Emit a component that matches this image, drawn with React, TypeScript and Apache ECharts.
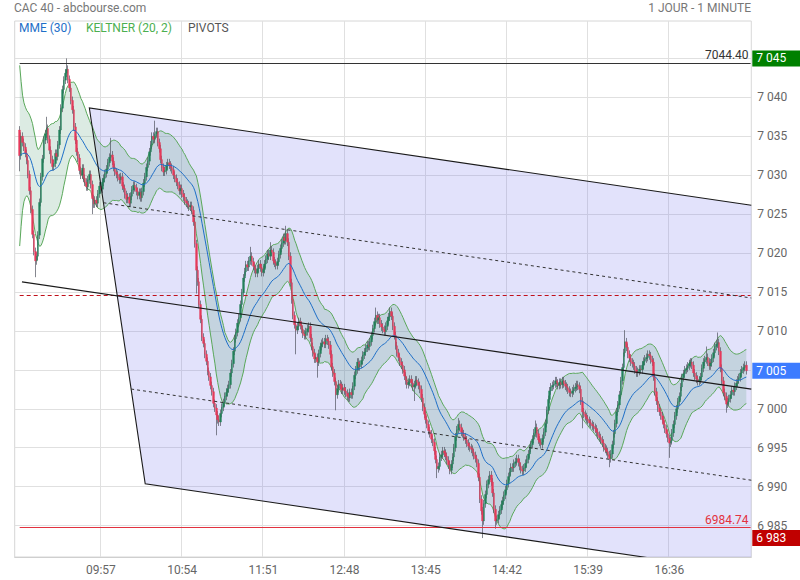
import React, { useEffect, useRef } from "react";
import * as echarts from "echarts";

// ---------- axis / time ----------
const FIRST_SLOT_MINUTE = 8 * 60 + 57; // first category slot 08:57
const SLOT_COUNT = 517; // 08:57 .. 17:33
const LEAD = 3; // first candle at 09:00
const LABEL_FIRST = 60; // 09:57
const LABEL_STEP = 57;

// ---------- price data (1 minute closes, 09:00 .. 17:30) ----------
const FIRST_OPEN = 7035.8;
const closes = [
  7032.5, 7035.0, 7034.2, 7033.6, 7032.8, 7031.9, 7030.1, 7028.0, 7025.6, 7022.4,
  7020.2, 7019.0, 7019.6, 7022.3, 7026.5, 7029.8, 7032.1, 7034.5, 7035.3, 7036.0,
  7034.6, 7033.2, 7032.0, 7031.1, 7031.5, 7032.8, 7032.4, 7033.9, 7035.8, 7038.6,
  7041.0, 7042.2, 7043.1, 7043.6, 7042.3, 7041.2, 7039.6, 7038.4, 7036.2, 7034.5,
  7033.0, 7032.2, 7030.6, 7030.0, 7030.9, 7029.6, 7029.1, 7028.5, 7029.4, 7030.1,
  7028.8, 7027.0, 7026.3, 7026.8, 7026.4, 7027.6, 7028.6, 7028.2, 7029.1, 7029.6,
  7030.2, 7030.8, 7031.6, 7032.3, 7032.6, 7031.8, 7031.0, 7030.4, 7030.1, 7029.7,
  7029.4, 7029.8, 7028.6, 7028.3, 7027.5, 7026.9, 7027.2, 7026.4, 7027.3, 7028.1,
  7028.7, 7028.4, 7027.9, 7027.4, 7027.8, 7027.1, 7027.9, 7029.0, 7029.8, 7031.0,
  7031.8, 7033.0, 7033.9, 7035.0, 7034.6, 7035.3, 7035.6, 7034.2, 7033.4, 7032.0,
  7031.0, 7030.4, 7030.6, 7031.2, 7031.6, 7031.3, 7031.0, 7030.7, 7030.0, 7029.6,
  7029.1, 7028.7, 7028.0, 7028.3, 7027.6, 7027.2, 7026.7, 7026.4, 7026.2, 7025.9,
  7026.1, 7025.5, 7024.0, 7021.2, 7017.8, 7016.3, 7013.4, 7011.5, 7009.2, 7008.4,
  7007.0, 7006.1, 7004.8, 7004.1, 7003.0, 7002.2, 7000.7, 7000.1, 6999.2, 6998.6,
  6998.3, 6999.4, 7000.2, 7000.8, 7001.6, 7002.1, 7002.6, 7003.1, 7004.6, 7005.8,
  7007.4, 7009.0, 7009.8, 7011.0, 7011.7, 7013.4, 7014.9, 7016.8, 7017.6, 7018.5,
  7018.2, 7019.0, 7019.6, 7018.9, 7018.3, 7017.9, 7017.4, 7018.0, 7018.6, 7018.1,
  7017.5, 7017.9, 7018.6, 7019.2, 7019.9, 7019.6, 7020.4, 7020.1, 7019.0, 7018.7,
  7018.4, 7018.9, 7019.8, 7020.6, 7021.3, 7022.0, 7021.6, 7022.5, 7021.4, 7019.6,
  7016.2, 7014.0, 7012.0, 7010.8, 7010.1, 7010.6, 7011.2, 7010.7, 7010.2, 7009.6,
  7009.4, 7009.9, 7010.3, 7010.6, 7009.1, 7008.0, 7007.2, 7006.4, 7006.6, 7006.0,
  7007.1, 7008.0, 7008.4, 7008.6, 7008.3, 7009.0, 7008.7, 7008.2, 7007.0, 7005.4,
  7004.6, 7003.5, 7001.8, 7002.6, 7003.2, 7003.0, 7002.4, 7002.7, 7002.3, 7002.0,
  7001.6, 7001.4, 7002.1, 7001.8, 7002.9, 7004.3, 7005.0, 7006.0, 7005.4, 7005.7,
  7006.2, 7006.9, 7007.3, 7007.8, 7008.2, 7008.0, 7008.6, 7009.4, 7010.3, 7011.2,
  7012.0, 7011.4, 7011.7, 7010.9, 7010.5, 7010.2, 7009.9, 7010.6, 7011.3, 7011.8,
  7012.5, 7011.9, 7010.6, 7009.4, 7008.1, 7007.2, 7006.6, 7006.0, 7005.6, 7005.0,
  7004.2, 7003.6, 7003.1, 7003.4, 7003.8, 7003.3, 7002.8, 7003.1, 7003.7, 7003.4,
  7003.0, 7002.5, 7001.4, 7000.2, 6999.3, 6998.6, 6998.0, 6997.2, 6996.8, 6996.1,
  6995.7, 6994.6, 6993.5, 6992.3, 6992.6, 6993.8, 6994.1, 6994.6, 6994.3, 6993.9,
  6993.4, 6992.8, 6992.1, 6992.9, 6993.8, 6995.0, 6996.4, 6997.3, 6998.0, 6997.6,
  6997.0, 6996.8, 6996.4, 6996.0, 6995.6, 6995.2, 6995.0, 6994.8, 6994.4, 6994.0,
  6993.6, 6993.0, 6991.2, 6988.4, 6986.9, 6985.6, 6987.8, 6989.0, 6990.3, 6990.9,
  6991.5, 6990.6, 6989.2, 6987.1, 6985.6, 6985.8, 6986.4, 6987.0, 6987.7, 6988.2,
  6988.9, 6989.6, 6990.4, 6991.3, 6991.9, 6992.5, 6992.4, 6993.0, 6993.2, 6993.6,
  6993.1, 6992.6, 6992.2, 6992.0, 6992.4, 6993.0, 6993.5, 6994.2, 6994.9, 6995.4,
  6996.1, 6996.9, 6997.6, 6996.8, 6996.0, 6995.7, 6995.4, 6996.2, 6997.0, 6998.1,
  6999.8, 7001.2, 7002.3, 7002.8, 7003.0, 7003.2, 7003.6, 7003.3, 7003.0, 7003.4,
  7003.1, 7003.6, 7003.2, 7002.9, 7002.7, 7002.4, 7002.1, 7002.0, 7002.3, 7002.6,
  7002.8, 7003.1, 7002.9, 7002.5, 7001.0, 6999.6, 6999.3, 6999.0, 6998.7, 6998.5,
  6998.2, 6998.0, 6997.8, 6997.6, 6997.4, 6997.0, 6996.6, 6996.3, 6996.0, 6995.6,
  6995.0, 6994.8, 6994.5, 6994.1, 6993.6, 6994.2, 6995.4, 6996.8, 6998.1, 6999.6,
  7000.5, 7001.8, 7003.6, 7005.3, 7007.2, 7008.6, 7007.9, 7007.0, 7006.5, 7006.0,
  7005.8, 7005.5, 7005.0, 7004.6, 7004.8, 7005.1, 7005.0, 7005.6, 7006.1, 7006.4,
  7006.6, 7007.0, 7006.8, 7006.3, 7006.0, 7004.1, 7002.2, 7001.0, 7000.1, 6999.6,
  6999.1, 6998.6, 6998.0, 6997.4, 6996.8, 6996.2, 6995.6, 6995.9, 6996.9, 6998.0,
  6999.1, 7000.0, 7000.9, 7001.6, 7002.8, 7004.0, 7004.5, 7005.0, 7005.2, 7005.5,
  7005.8, 7006.0, 7005.6, 7004.6, 7004.2, 7003.8, 7003.5, 7003.7, 7004.1, 7005.2,
  7006.0, 7006.3, 7006.6, 7006.0, 7005.5, 7005.9, 7006.5, 7007.2, 7008.0, 7008.3,
  7008.5, 7007.4, 7005.2, 7003.6, 7002.1, 7001.6, 7000.6, 7000.9, 7001.3, 7001.8,
  7002.4, 7002.2, 7002.9, 7003.3, 7003.7, 7004.0, 7004.6, 7005.0, 7005.3, 7005.6, 7004.9,
];

// wick extremes (candle index -> price)
const highSpikes: Record<number, number> = {
  0: 7036.3, 19: 7037.5, 33: 7045.0, 64: 7034.8, 95: 7037.0, 162: 7020.8,
  176: 7021.4, 187: 7023.5, 250: 7013.0, 260: 7013.0, 308: 6998.8, 362: 6998.5,
  425: 7010.1, 482: 7008.0, 490: 7009.8,
};
const lowSpikes: Record<number, number> = {
  0: 7030.5, 11: 7016.9, 51: 7025.0, 124: 7014.8, 138: 6996.6, 194: 7007.0,
  209: 7004.0, 222: 6999.8, 277: 7001.0, 293: 6991.1, 325: 6983.4, 334: 6984.6,
  395: 6997.5, 414: 6992.5, 456: 6993.7, 496: 6999.5,
};
const TYPICAL_WICK = 0.5;

// pivots
const PIVOT_R1 = 7044.4;
const PIVOT_P = 7014.57;
const PIVOT_S1 = 6984.74;

// regression channel (candle index, price)
const CH_MID_START = [1.6, 7016.3];
const CH_MID_END = [513.5, 7002.53];
const CH_INNER = 11.7;
const CH_OUTER = 23.6;
const CH_LEFT_TOP_IDX = 48.9;
const CH_LEFT_BOTTOM_IDX = 88.1;

// y axis
const Y_MIN = 6980.97;
const Y_MAX = 7049.8;
const yTicks = [6985, 6990, 6995, 7000, 7005, 7010, 7015, 7020, 7025, 7030, 7035, 7040, 7045];

const EMA_LEN = 30;
const KELT_LEN = 20;
const KELT_MULT = 2;

const FONT = "Roboto, 'Noto Sans', sans-serif";

function fmtThousands(v: number) {
  return String(Math.round(v)).replace(/\B(?=(\d{3})+(?!\d))/g, " ");
}

function ema(values: number[], n: number) {
  const k = 2 / (n + 1);
  const out: number[] = [];
  values.forEach((v, i) => {
    out.push(i === 0 ? v : v * k + out[i - 1] * (1 - k));
  });
  return out;
}

export default function App() {
  const ref = useRef<HTMLDivElement>(null);

  useEffect(() => {
    if (!ref.current) return;
    const chart = echarts.init(ref.current, undefined, { renderer: "svg" });

    const cats: string[] = [];
    for (let i = 0; i < SLOT_COUNT; i++) {
      const m = FIRST_SLOT_MINUTE + i;
      cats.push(`${String(Math.floor(m / 60)).padStart(2, "0")}:${String(m % 60).padStart(2, "0")}`);
    }

    const opens = closes.map((c, i) => (i === 0 ? FIRST_OPEN : closes[i - 1]));
    const highs = closes.map((c, i) => highSpikes[i] ?? Math.max(opens[i], c) + TYPICAL_WICK);
    const lows = closes.map((c, i) => lowSpikes[i] ?? Math.min(opens[i], c) - TYPICAL_WICK);

    const pad = (arr: any[]) => [...new Array(LEAD).fill("-"), ...arr];

    const wickData = pad(closes.map((c, i) => [opens[i], c, lows[i], highs[i]]));
    const bodyData = pad(
      closes.map((c, i) => [opens[i], c, Math.min(opens[i], c), Math.max(opens[i], c)])
    );

    const emaLine = ema(closes, EMA_LEN);
    const kMid = ema(closes, KELT_LEN);
    const trs = closes.map((c, i) => {
      if (i === 0) return highs[i] - lows[i];
      const pc = closes[i - 1];
      return Math.max(highs[i] - lows[i], Math.abs(highs[i] - pc), Math.abs(lows[i] - pc));
    });
    const atr = trs.map((_, i) => {
      const s = Math.max(0, i - KELT_LEN + 1);
      const w = trs.slice(s, i + 1);
      return w.reduce((a, b) => a + b, 0) / w.length;
    });
    const kLow = kMid.map((m, i) => +(m - KELT_MULT * atr[i]).toFixed(3));
    const kSpan = atr.map((a) => +(2 * KELT_MULT * a).toFixed(3));

    const slope = (CH_MID_END[1] - CH_MID_START[1]) / (CH_MID_END[0] - CH_MID_START[0]);
    const mid = (d: number) => CH_MID_START[1] + (d - CH_MID_START[0]) * slope;
    const leftIdx = (k: number) =>
      CH_LEFT_TOP_IDX + ((CH_OUTER - k) / (2 * CH_OUTER)) * (CH_LEFT_BOTTOM_IDX - CH_LEFT_TOP_IDX);
    const END = CH_MID_END[0];

    const chFill = (params: any, api: any) => {
      const pt = (d: number, p: number) => api.coord([d + LEAD, p]);
      const a = leftIdx(CH_OUTER);
      const b = leftIdx(-CH_OUTER);
      return {
        type: "polygon",
        shape: {
          points: [
            pt(a, mid(a) + CH_OUTER),
            pt(END, mid(END) + CH_OUTER),
            pt(END, mid(END) - CH_OUTER),
            pt(b, mid(b) - CH_OUTER),
          ],
        },
        style: { fill: "rgba(110,110,235,0.2)" },
      };
    };

    const chLines = (params: any, api: any) => {
      const pt = (d: number, p: number) => api.coord([d + LEAD, p]);
      const a = leftIdx(CH_OUTER);
      const b = leftIdx(-CH_OUTER);
      const ia = leftIdx(CH_INNER);
      const ib = leftIdx(-CH_INNER);
      const solid = { stroke: "#1a1a1a", lineWidth: 1.1, fill: "none" };
      const dotted = { stroke: "#333", lineWidth: 1, lineDash: [3, 3], fill: "none" };
      const seg = (d1: number, p1: number, d2: number, p2: number, style: any) => {
        const s = pt(d1, p1);
        const e = pt(d2, p2);
        return { type: "line", shape: { x1: s[0], y1: s[1], x2: e[0], y2: e[1] }, style };
      };
      return {
        type: "group",
        children: [
          { type: "polyline", shape: { points: [pt(END, mid(END) + CH_OUTER), pt(a, mid(a) + CH_OUTER), pt(b, mid(b) - CH_OUTER), pt(END, mid(END) - CH_OUTER)] }, style: solid },
          seg(CH_MID_START[0], CH_MID_START[1], END, mid(END), solid),
          seg(ia, mid(ia) + CH_INNER, END, mid(END) + CH_INNER, dotted),
          seg(ib, mid(ib) - CH_INNER, END, mid(END) - CH_INNER, dotted),
        ],
      };
    };

    const labelFn = (idx: number) => idx >= LABEL_FIRST && idx < 500 && (idx - LABEL_FIRST) % LABEL_STEP === 0;

    const dayHigh = Math.max(...highs);
    const dayLow = Math.min(...lows);
    const last = closes[closes.length - 1];
    const lastIdx = SLOT_COUNT - 1;

    const boxLabel = (bg: string) => ({
      show: true,
      position: "end",
      distance: 1,
      color: "#fff",
      backgroundColor: bg,
      padding: [2, 20, 2, 4],
      fontSize: 12,
      lineHeight: 12,
      fontFamily: FONT,
      formatter: (p: any) => fmtThousands(p.value),
    });

    const option: any = {
      animation: false,
      textStyle: { fontFamily: FONT },
      grid: {
        left: 14.7,
        right: 800 - 751.3,
        top: 21,
        bottom: 580 - 557,
        show: true,
        borderColor: "#d6d6d6",
        borderWidth: 1,
      },
      xAxis: [
        {
          type: "category",
          data: cats,
          boundaryGap: true,
          axisLine: { show: true, lineStyle: { color: "#cfcfcf" } },
          axisTick: { show: false },
          axisLabel: { interval: labelFn, color: "#666", fontSize: 12, margin: 7, fontFamily: FONT },
          splitLine: { show: true, interval: labelFn, lineStyle: { color: "#e0e0e0", width: 1 } },
        },
        { type: "value", min: -0.5, max: SLOT_COUNT - 0.5, show: false },
      ],
      yAxis: {
        type: "value",
        position: "right",
        min: Y_MIN,
        max: Y_MAX,
        axisLine: { show: false },
        axisTick: { show: false, customValues: yTicks },
        axisLabel: {
          customValues: yTicks,
          color: "#666",
          fontSize: 12,
          margin: 6,
          padding: [0, 0, 6, 0],
          fontFamily: FONT,
          formatter: (v: number) => fmtThousands(v),
        },
        splitLine: { show: true, lineStyle: { color: "#e0e0e0", width: 1 } },
      },
      graphic: [
        { type: "text", left: 14, top: 2, style: { text: "CAC 40 - abcbourse.com", fill: "#777", font: `12px ${FONT}` } },
        { type: "text", right: 49, top: 2, style: { text: "1 JOUR - 1 MINUTE", fill: "#777", font: `12px ${FONT}` } },
        { type: "text", left: 19, top: 22, z: 100, style: { text: "MME (30)", fill: "#1e6fc8", font: `12px ${FONT}` } },
        { type: "text", left: 86, top: 22, z: 100, style: { text: "KELTNER (20, 2)", fill: "#4caf50", font: `12px ${FONT}` } },
        { type: "text", left: 188, top: 22, z: 100, style: { text: "PIVOTS", fill: "#555", font: `12px ${FONT}` } },
      ],
      series: [
        {
          type: "custom",
          name: "channel-fill",
          xAxisIndex: 1,
          yAxisIndex: 0,
          clip: true,
          silent: true,
          z: 1,
          data: [[0, 7000]],
          renderItem: chFill,
        },
        {
          type: "line",
          name: "kLow",
          stack: "kelt",
          data: pad(kLow),
          symbol: "none",
          z: 2,
          lineStyle: { color: "#5aa85a", width: 1 },
        },
        {
          type: "line",
          name: "kSpan",
          stack: "kelt",
          data: pad(kSpan),
          symbol: "none",
          z: 2,
          lineStyle: { color: "#5aa85a", width: 1 },
          areaStyle: { color: "rgba(46,139,87,0.24)" },
        },
        {
          type: "candlestick",
          name: "wicks",
          data: wickData,
          barWidth: 0.5,
          z: 3,
          itemStyle: { color: "#50535e", color0: "#50535e", borderColor: "#50535e", borderColor0: "#50535e", borderWidth: 0.7 },
        },
        {
          type: "candlestick",
          name: "bodies",
          data: bodyData,
          barWidth: 2,
          barMinWidth: 2,
          z: 4,
          itemStyle: { color: "#23805a", color0: "#e5395a", borderColor: "#23805a", borderColor0: "#e5395a", borderWidth: 0.3 },
          markLine: {
            silent: true,
            symbol: ["none", "none"],
            animation: false,
            data: [
              [
                { coord: [LEAD, PIVOT_R1], lineStyle: { color: "#333", width: 1, type: "solid" }, label: { show: true, position: "insideEndTop", distance: 2, color: "#333", fontSize: 12, fontFamily: FONT, formatter: PIVOT_R1.toFixed(2) } },
                { coord: [lastIdx, PIVOT_R1] },
              ],
              [
                { coord: [LEAD, PIVOT_P], lineStyle: { color: "#c0101a", width: 1, type: [4, 3] }, label: { show: false } },
                { coord: [lastIdx, PIVOT_P] },
              ],
              [
                { coord: [LEAD, PIVOT_S1], lineStyle: { color: "#e2323f", width: 1, type: "solid" }, label: { show: true, position: "insideEndTop", distance: 2, color: "#e2323f", fontSize: 12, fontFamily: FONT, formatter: PIVOT_S1.toFixed(2) } },
                { coord: [lastIdx, PIVOT_S1] },
              ],
              { yAxis: dayHigh, lineStyle: { color: "rgba(0,0,0,0)", width: 0 }, label: boxLabel("#008000") },
              { yAxis: dayLow, lineStyle: { color: "rgba(0,0,0,0)", width: 0 }, label: boxLabel("#c00000") },
              { yAxis: last, lineStyle: { color: "rgba(0,0,0,0)", width: 0 }, label: boxLabel("#3d7cff") },
            ],
          },
        },
        {
          type: "line",
          name: "MME (30)",
          data: pad(emaLine.map((v) => +v.toFixed(3))),
          symbol: "none",
          z: 5,
          lineStyle: { color: "#1e6fc8", width: 1 },
        },
        {
          type: "custom",
          name: "channel-lines",
          xAxisIndex: 1,
          yAxisIndex: 0,
          clip: true,
          silent: true,
          z: 6,
          data: [[0, 7000]],
          renderItem: chLines,
        },
      ],
    };

    chart.setOption(option);
    return () => chart.dispose();
  }, []);

  return <div ref={ref} style={{ width: 800, height: 580, position: "absolute", left: 0, top: 0 }} />;
}
